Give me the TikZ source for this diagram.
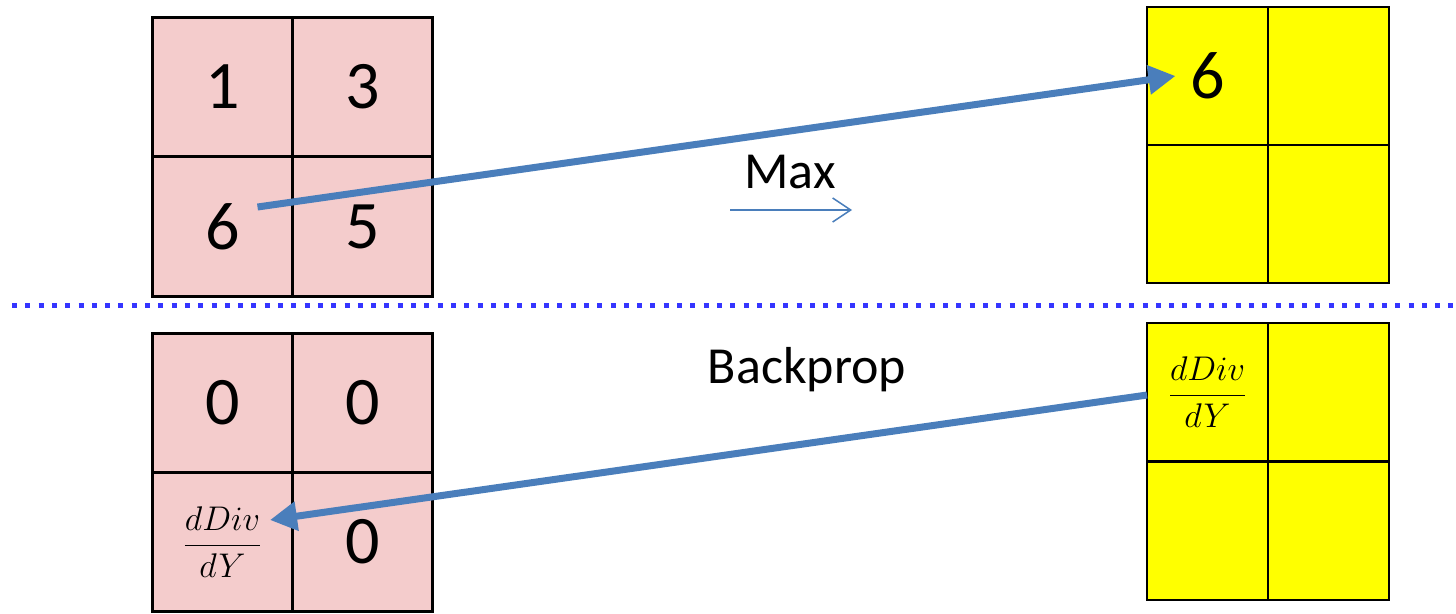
\documentclass[tikz,border=0pt]{standalone}
\usepackage{fontspec}
\setmainfont{Carlito}
\usetikzlibrary{arrows.meta}
\definecolor{pinkc}{HTML}{F4CCCC}
\definecolor{yel}{HTML}{FFFF00}
\definecolor{arr}{HTML}{4A7EBB}
\definecolor{dotc}{HTML}{3535FF}
\newcommand{\dfr}{\scalebox{1.65}{\fontsize{20.74}{24}\selectfont$\displaystyle\frac{dDiv}{dY}$}}
\begin{document}
\begin{tikzpicture}[x=1pt,y=-1pt,
  cell/.style={draw=black, line width=2.6pt, inner sep=0pt, font=\fontsize{68}{70}\selectfont},
  pcell/.style={cell, fill=pinkc, minimum width=140pt, minimum height=139.5pt},
  ycell/.style={cell, fill=yel, minimum width=121pt, minimum height=138pt},
  lbl/.style={font=\fontsize{52}{56}\selectfont, inner sep=0pt},
  bigarrow/.style={draw=arr, line width=7pt, -{Triangle[length=27pt,width=28pt]}},
  thinarrow/.style={draw=arr, line width=1.5pt, -{Straight Barb[length=18pt,width=24pt,line width=1.5pt]}},
  dotline/.style={draw=dotc, line width=5pt, dash pattern=on 5pt off 8.3pt}
]
\useasboundingbox (0,0) rectangle (1456,613);
% top left pink grid
\node[pcell] (p11) at (222.5,87) {1};
\node[pcell] (p12) at (362.5,87) {3};
\node[pcell] (p21) at (222.5,226.5) {6};
\node[pcell] (p22) at (362.5,226.5) {5};
% top right yellow grid
\node[ycell] (y11) at (1207.5,76) {6};
\node[ycell] (y12) at (1328.5,76) {};
\node[ycell] (y21) at (1207.5,214) {};
\node[ycell] (y22) at (1328.5,214) {};
% bottom left pink grid
\node[pcell] (q11) at (222.5,403) {0};
\node[pcell] (q12) at (362.5,403) {0};
\node[pcell] (q21) at (222.5,542) {\dfr};
\node[pcell] (q22) at (362.5,542) {0};
% bottom right yellow grid
\node[ycell] (z11) at (1207.5,392) {\dfr};
\node[ycell] (z12) at (1328.5,392) {};
\node[ycell] (z21) at (1207.5,531) {};
\node[ycell] (z22) at (1328.5,531) {};
% labels
\node[lbl] (max) at (790,172) {Max};
\node[lbl] (bp) at (807,370) {Backprop};
% small Max arrow
\coordinate (ms) at (730,210);
\coordinate (me) at (852,210);
\draw[thinarrow] (ms) -- (me);
% dotted separator
\coordinate (d1) at (12,305);
\coordinate (d2) at (1456,305);
\draw[dotline] (d1) -- (d2);
% big arrows
\draw[bigarrow] ([xshift=35pt,yshift=19.5pt]p21.center) -- ([xshift=-32pt]y11.center);
\draw[bigarrow] ([xshift=-60.5pt,yshift=-3pt]z11.center) -- ([xshift=47.5pt,yshift=22pt]q21.center);
\end{tikzpicture}
\end{document}
